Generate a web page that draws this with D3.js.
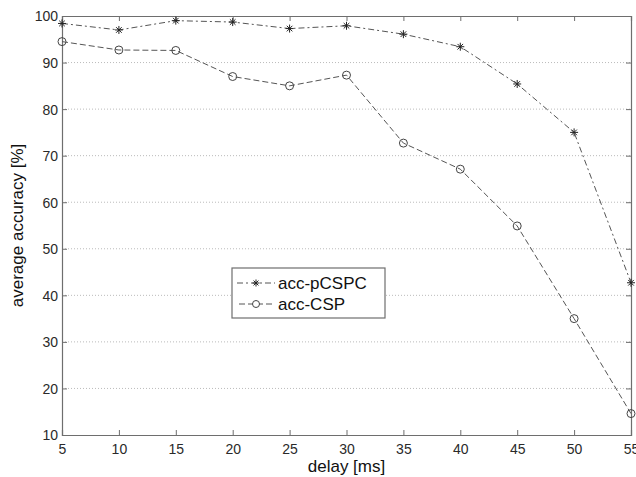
<!DOCTYPE html>
<html><head><meta charset="utf-8">
<script src="https://cdn.jsdelivr.net/npm/d3@7"></script>
<style>body{margin:0;background:#fff}svg{display:block}text{font-family:"Liberation Sans",Arial,sans-serif}</style>
</head><body><svg id="c" width="636" height="477"></svg>
<script>
const delays = [5,10,15,20,25,30,35,40,45,50,55];
const accPCSPC = [98.4,97.0,99.0,98.7,97.3,97.9,96.1,93.4,85.4,75.0,42.7];
const accCSP = [94.5,92.7,92.6,87.0,85.0,87.3,72.7,67.1,54.9,35.0,14.6];
const xTicks = [5,10,15,20,25,30,35,40,45,50,55];
const yTicks = [10,20,30,40,50,60,70,80,90,100];
const seriesNames = ["acc-pCSPC","acc-CSP"];

const svg = d3.select("#c");
const L=62,R=631,T=16,B=435;
const x = d3.scaleLinear().domain([5,55]).range([L,R]);
const y = d3.scaleLinear().domain([10,100]).range([B,T]);
const axisCol="#6e6e6e", txtCol="#2a2a2a", lineCol="#555";

// grid
svg.append("g").selectAll("line").data(yTicks.filter(v=>v>10&&v<100)).join("line")
 .attr("x1",L).attr("x2",R).attr("y1",d=>y(d)).attr("y2",d=>y(d))
 .attr("stroke","#bbb").attr("stroke-width",1).attr("stroke-dasharray","1,2");

// axes
const fs=14;
const gxB=svg.append("g").attr("transform",`translate(0,${B})`).call(d3.axisBottom(x).tickValues(xTicks).tickSize(-5).tickPadding(9));
const gxT=svg.append("g").attr("transform",`translate(0,${T})`).call(d3.axisTop(x).tickValues(xTicks).tickSize(-5).tickFormat(""));
const gyL=svg.append("g").attr("transform",`translate(${L},0)`).call(d3.axisLeft(y).tickValues(yTicks).tickSize(-5).tickPadding(4));
const gyR=svg.append("g").attr("transform",`translate(${R},0)`).call(d3.axisRight(y).tickValues(yTicks).tickSize(-5).tickFormat(""));
[gxB,gxT,gyL,gyR].forEach(g=>{
  g.select(".domain").attr("stroke",axisCol).attr("stroke-width",1.2);
  g.selectAll(".tick line").attr("stroke",axisCol);
  g.selectAll("text").attr("fill",txtCol).style("font-size",fs+"px").style("font-family","'Liberation Sans',Arial,sans-serif");
});
gyL.selectAll(".tick text").attr("dy","0.35em");

// lines
const line = d3.line().x((d,i)=>x(delays[i])).y(d=>y(d));
svg.append("path").datum(accPCSPC).attr("d",line).attr("fill","none").attr("stroke",lineCol).attr("stroke-width",1).attr("stroke-dasharray","6,3,2,3");
svg.append("path").datum(accCSP).attr("d",line).attr("fill","none").attr("stroke",lineCol).attr("stroke-width",1).attr("stroke-dasharray","6,3");

function star(g,cx,cy,s){
  const p=`M${cx-s},${cy}L${cx+s},${cy}M${cx},${cy-s}L${cx},${cy+s}M${cx-s*0.7},${cy-s*0.7}L${cx+s*0.7},${cy+s*0.7}M${cx-s*0.7},${cy+s*0.7}L${cx+s*0.7},${cy-s*0.7}`;
  g.append("path").attr("d",p).attr("stroke","#222").attr("stroke-width",1).attr("fill","none");
}
const gm=svg.append("g");
accPCSPC.forEach((v,i)=>star(gm,x(delays[i]),y(v),4));
gm.selectAll("circle").data(accCSP).join("circle").attr("cx",(d,i)=>x(delays[i])).attr("cy",d=>y(d)).attr("r",4)
 .attr("fill","none").attr("stroke","#444").attr("stroke-width",1);

// legend
const lg=svg.append("g");
lg.append("rect").attr("x",232).attr("y",268).attr("width",153).attr("height",50).attr("fill","#fff").attr("stroke",axisCol).attr("stroke-width",1.2);
const ly=[283,304];
lg.append("line").attr("x1",237).attr("x2",275).attr("y1",ly[0]).attr("y2",ly[0]).attr("stroke",lineCol).attr("stroke-dasharray","6,3,2,3");
star(lg,256,ly[0],3.5);
lg.append("line").attr("x1",239).attr("x2",275).attr("y1",ly[1]).attr("y2",ly[1]).attr("stroke",lineCol).attr("stroke-dasharray","6,3");
lg.append("circle").attr("cx",256).attr("cy",ly[1]).attr("r",3.5).attr("fill","#fff").attr("stroke","#444");
seriesNames.forEach((n,i)=>lg.append("text").attr("x",278).attr("y",ly[i]).attr("dy","0.35em").attr("fill","#111").style("font-size","17px").text(n));

// axis labels
svg.append("text").attr("x",(L+R)/2).attr("y",472).attr("text-anchor","middle").attr("fill","#111").style("font-size","17px").text("delay [ms]");
svg.append("text").attr("transform",`translate(23,${(T+B)/2}) rotate(-90)`).attr("text-anchor","middle").attr("fill","#111").style("font-size","17px").text("average accuracy [%]");
</script></body></html>
